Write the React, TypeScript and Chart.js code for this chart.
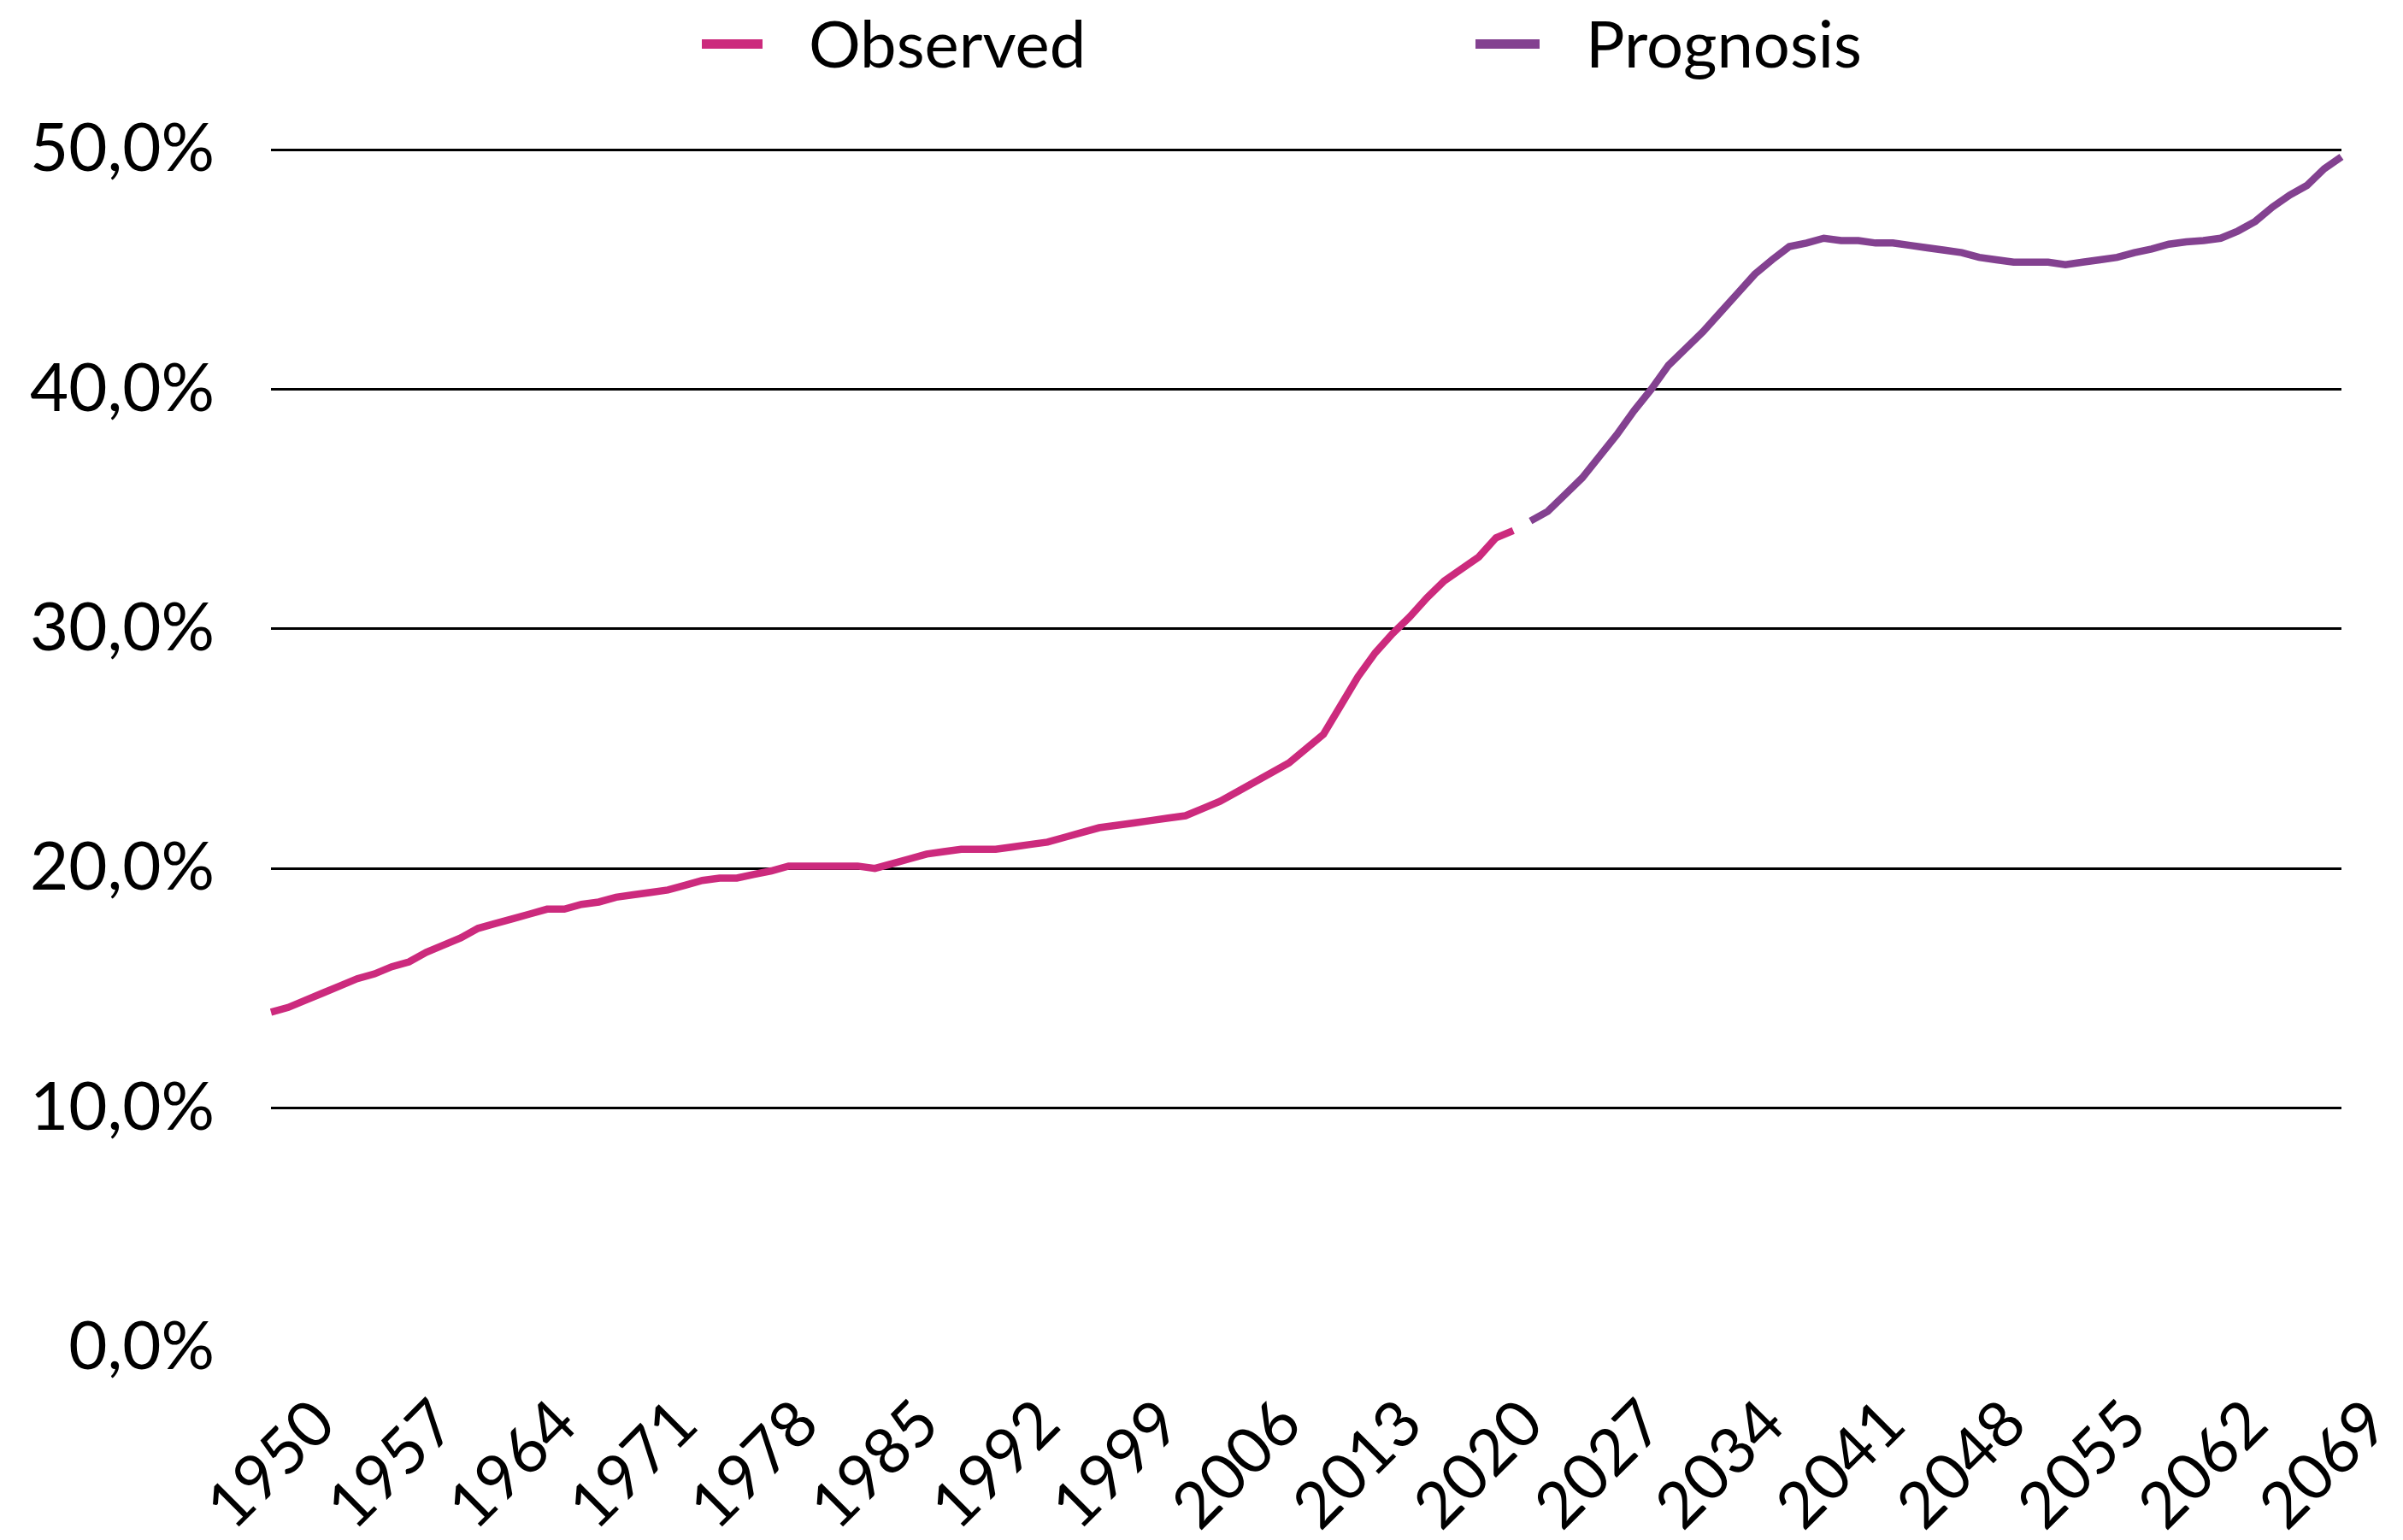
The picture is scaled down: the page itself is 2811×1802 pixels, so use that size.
import React, { useEffect, useRef } from 'react';
import { Chart, registerables } from 'chart.js';

Chart.register(...registerables);

// ---------- data ----------
const FIRST_YEAR = 1950;
const LAST_YEAR = 2070;
const years: string[] = [];
for (let y = FIRST_YEAR; y <= LAST_YEAR; y++) years.push(String(y));

// Observed share (%), 1950–2022
const observed: number[] = [
  14.0, 14.2, 14.5, 14.8, 15.1, 15.4, 15.6, 15.9, 16.1, 16.5, // 1950-1959
  16.8, 17.1, 17.5, 17.7, 17.9, 18.1, 18.3, 18.3, 18.5, 18.6, // 1960-1969
  18.8, 18.9, 19.0, 19.1, 19.3, 19.5, 19.6, 19.6, 19.75, 19.9, // 1970-1979
  20.1, 20.1, 20.1, 20.1, 20.1, 20.0, 20.2, 20.4, 20.6, 20.7, // 1980-1989
  20.8, 20.8, 20.8, 20.9, 21.0, 21.1, 21.3, 21.5, 21.7, 21.8, // 1990-1999
  21.9, 22.0, 22.1, 22.2, 22.5, 22.8, 23.2, 23.6, 24.0, 24.4, // 2000-2009
  25.0, 25.6, 26.8, 28.0, 29.0, 29.8, 30.5, 31.3, 32.0, 32.5, // 2010-2019
  33.0, 33.8, 34.1, // 2020-2022
];

// Prognosis share (%), 2023–2070
const prognosis: number[] = [
  34.5, 34.9, 35.6, 36.3, 37.2, 38.1, 39.1, // 2023-2029
  40.0, 41.0, 41.7, 42.4, 43.2, 44.0, 44.8, 45.4, 45.95, 46.1, // 2030-2039
  46.3, 46.2, 46.2, 46.1, 46.1, 46.0, 45.9, 45.8, 45.7, 45.5, // 2040-2049
  45.4, 45.3, 45.3, 45.3, 45.2, 45.3, 45.4, 45.5, 45.7, 45.85, // 2050-2059
  46.05, 46.15, 46.2, 46.3, 46.6, 47.0, 47.6, 48.1, 48.5, 49.2, // 2060-2069
  49.7, // 2070
];

const seriesNames = ['Observed', 'Prognosis'];
const seriesColors = ['#CC2A7D', '#834190'];
const yMin = 0;
const yMax = 50;
const yStep = 10;
const xLabelEvery = 7;

// ---------- layout ----------
const W = 2811;
const H = 1802;
const PLOT_LEFT = 317;
const PLOT_RIGHT = 2739;
const PLOT_TOP = 175;
const PLOT_BOTTOM = 1577;
const FONT_FAMILY = 'Lato, "Liberation Sans", "DejaVu Sans", sans-serif';
const Y_FONT_SIZE = 78;
const X_FONT_SIZE = 75;
const LEGEND_FONT_SIZE = 76;

const legendPlugin = {
  id: 'topLegend',
  afterDraw(chart: any) {
    const ctx = chart.ctx as CanvasRenderingContext2D;
    const items = [
      { text: seriesNames[0], color: seriesColors[0], boxX: 821, boxW: 71, textX: 946 },
      { text: seriesNames[1], color: seriesColors[1], boxX: 1726, boxW: 75, textX: 1855 },
    ];
    ctx.save();
    ctx.font = `${LEGEND_FONT_SIZE}px ${FONT_FAMILY}`;
    ctx.textBaseline = 'alphabetic';
    ctx.textAlign = 'left';
    for (const it of items) {
      ctx.fillStyle = it.color;
      ctx.fillRect(it.boxX, 46, it.boxW, 11);
      ctx.fillStyle = '#000';
      ctx.fillText(it.text, it.textX, 79);
    }
    ctx.restore();
  },
};

export default function App() {
  const canvasRef = useRef<HTMLCanvasElement | null>(null);

  useEffect(() => {
    document.body.style.margin = '0';
    const canvas = canvasRef.current;
    if (!canvas) return;

    const nObs = observed.length;
    const observedData = years.map((_, i) => (i < nObs ? observed[i] : null));
    const prognosisData = years.map((_, i) => (i >= nObs ? prognosis[i - nObs] : null));

    const chart = new Chart(canvas, {
      type: 'line',
      data: {
        labels: years,
        datasets: [
          {
            label: seriesNames[0],
            data: observedData,
            borderColor: seriesColors[0],
            backgroundColor: seriesColors[0],
            borderWidth: 8.5,
            pointRadius: 0,
            tension: 0,
            spanGaps: false,
            borderCapStyle: 'butt',
          },
          {
            label: seriesNames[1],
            data: prognosisData,
            borderColor: seriesColors[1],
            backgroundColor: seriesColors[1],
            borderWidth: 8.5,
            pointRadius: 0,
            tension: 0,
            spanGaps: false,
            borderCapStyle: 'butt',
          },
        ],
      },
      options: {
        responsive: false,
        animation: false,
        devicePixelRatio: 1,
        layout: {
          padding: { top: PLOT_TOP, right: W - PLOT_RIGHT, left: 0, bottom: 0 },
        },
        plugins: {
          legend: { display: false },
          tooltip: { enabled: false },
          title: { display: false },
        },
        scales: {
          x: {
            type: 'category',
            grid: { display: false, drawTicks: false },
            border: { display: false },
            ticks: {
              autoSkip: false,
              maxRotation: 45,
              minRotation: 45,
              padding: 44,
              labelOffset: 62,
              color: '#000',
              font: { family: FONT_FAMILY, size: X_FONT_SIZE },
              callback: function (this: any, value: any, index: number) {
                return index % xLabelEvery === 0 ? this.getLabelForValue(value) : null;
              },
            },
            afterFit: (scale: any) => {
              scale.height = H - PLOT_BOTTOM;
              scale.paddingLeft = 0;
              scale.paddingRight = 0;
            },
          },
          y: {
            min: yMin,
            max: yMax,
            grid: {
              color: (c: any) => (c.tick && c.tick.value === 0 ? 'rgba(0,0,0,0)' : '#000'),
              lineWidth: 3,
              drawTicks: false,
            },
            border: { display: false },
            ticks: {
              stepSize: yStep,
              padding: 66,
              color: '#000',
              font: { family: FONT_FAMILY, size: Y_FONT_SIZE },
              callback: (v: any) => Number(v).toFixed(1).replace('.', ',') + '%',
            },
            afterFit: (scale: any) => {
              scale.width = PLOT_LEFT;
              scale.paddingTop = 0;
              scale.paddingBottom = 0;
            },
          },
        },
      },
      plugins: [legendPlugin],
    });

    return () => {
      chart.destroy();
    };
  }, []);

  return (
    <div style={{ width: W, height: H, background: '#fff' }}>
      <canvas ref={canvasRef} width={W} height={H} style={{ display: 'block', width: W, height: H }} />
    </div>
  );
}
